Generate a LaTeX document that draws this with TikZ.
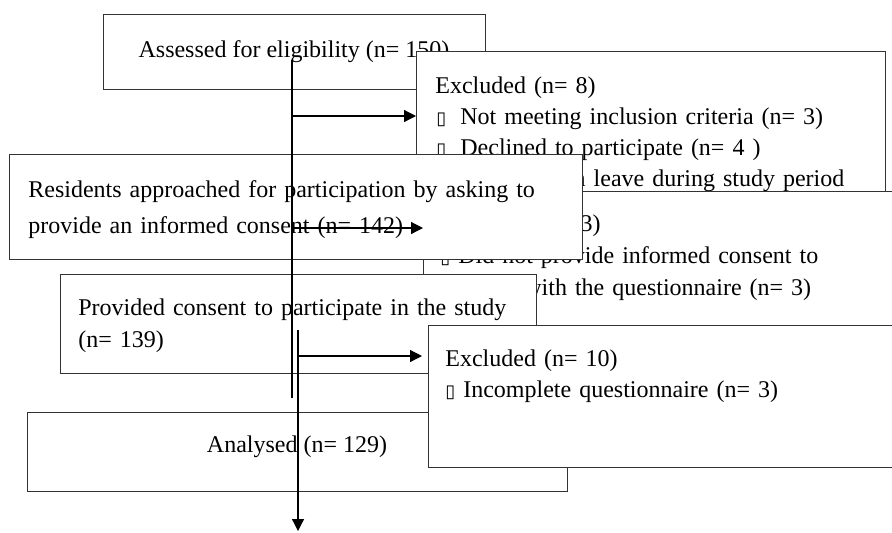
\documentclass[tikz,border=0pt]{standalone}
\usepackage{fontspec}
\setmainfont{Liberation Serif}
\newfontfamily\symfont{DejaVu Sans}
\usetikzlibrary{arrows.meta}

\newcommand{\sq}{{\symfont\fontsize{9}{9}\selectfont ▯}}
\newcommand{\sqi}{\makebox[12.5pt][l]{\hspace{0.5pt}\sq}}

\tikzset{
	box/.style={draw=black!80, line width=0.6pt, fill=white, inner sep=0pt, anchor=north west},
	txt/.style={inner sep=0pt, anchor=base west, align=left, text width=#1},
	mid/.style={inner sep=0pt, anchor=base},
	arr/.style={-{Triangle[length=6pt,width=6pt]}, line width=0.6pt}
}

\begin{document}
\begin{tikzpicture}[x=0.5pt, y=-0.5pt, font=\fontsize{12}{16}\selectfont]
	\useasboundingbox (0,0) rectangle (892,532);
	\clip (0,0) rectangle (892,532);

%oben
	\node[box, minimum width=191pt, minimum height=37.5pt] (assessed) at (103,14) {};
	\node[mid] (tAssessed) at (294,57) {Assessed for eligibility (n= 150)};

	\node[box, minimum width=234.5pt, minimum height=82pt] (excl1) at (416,51) {};
	\node[txt=222pt, font=\fontsize{12}{15.65}\selectfont] (tExcl1) at (435,93)
		{Excluded (n= 8)\\
		\sqi Not meeting inclusion criteria (n= 3)\\
		\sqi Declined to participate (n= 4 )\\
		\sqi Residents on leave during study period};

	\node[box, minimum width=238.5pt, minimum height=77pt] (excl2) at (423,191) {};
	\node[txt=215pt] (tExcl2) at (440,231)
		{Excluded (n= 3)\\
		\sq{} Did not provide informed consent to\\
		proceed with the questionnaire (n= 3)};

	\node[box, minimum width=286.5pt, minimum height=52.5pt] (approached) at (9,154) {};
	\node[txt=275pt, font=\fontsize{12}{18}\selectfont] (tApproached) at (28,197)
		{Residents approached for participation by asking to\\
		provide an informed consent (n= 142)};

%unten
	\node[box, minimum width=238pt, minimum height=49.5pt] (consent) at (60,274) {};
	\node[txt=225pt] (tConsent) at (78,315)
		{Provided consent to participate in the study\\
		(n= 139)};

	\node[box, minimum width=270pt, minimum height=39.5pt] (analysed) at (27,412) {};
	\node[mid] (tAnalysed) at (297,452) {Analysed (n= 129)};

	\node[box, minimum width=236pt, minimum height=71pt] (excl3) at (428,325) {};
	\node[txt=200pt, font=\fontsize{12}{15.5}\selectfont] (tExcl3) at (445,366)
		{Excluded (n= 10)\\
		\sq{} Incomplete questionnaire (n= 3)};

%Pfeile
	\coordinate (lineTop) at (292,60);
	\coordinate (lineEnd) at (292,398);
	\coordinate (splitTop) at (298,330);
	\coordinate (splitEnd) at (298,531);
	\coordinate (kB) at (292,116);
	\coordinate (kC) at (292,228);
	\coordinate (kE) at (298,356);

	\draw[line width=0.6pt] (lineTop) -- (lineEnd);
	\draw[arr] (splitTop) -- (splitEnd);
	\draw[arr] (kB) -- (kB -| excl1.west);
	\draw[arr] (kC) -- (kC -| excl2.west);
	\draw[arr, shorten >=3pt] (kE) -- (kE -| excl3.west);

\end{tikzpicture}
\end{document}
